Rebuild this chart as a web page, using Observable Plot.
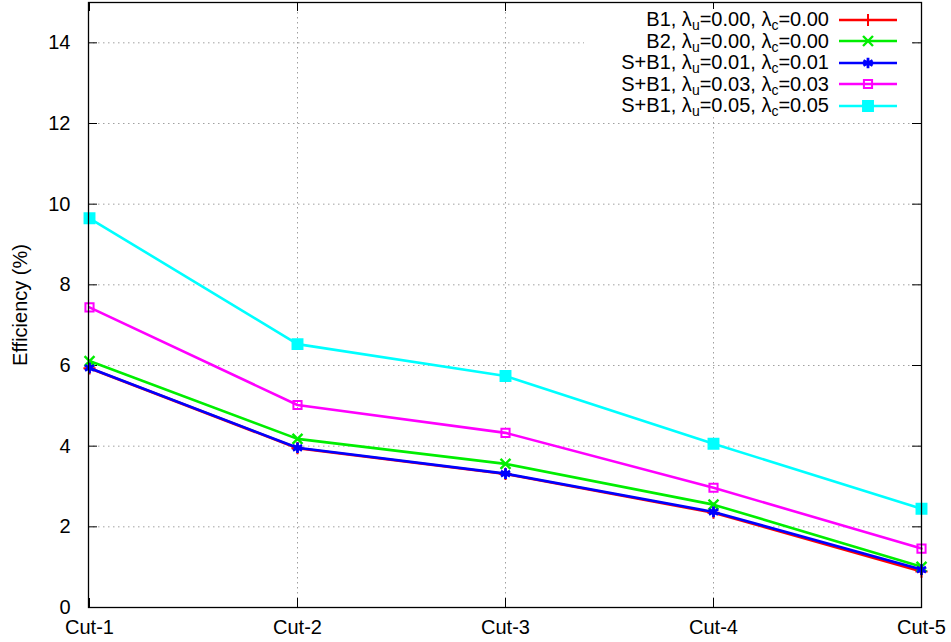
<!DOCTYPE html>
<html><head><meta charset="utf-8">
<script src="https://cdn.jsdelivr.net/npm/d3@7"></script>
<script src="https://cdn.jsdelivr.net/npm/@observablehq/plot@0.6"></script>
<style>
body{margin:0;background:#fff;font-family:"Liberation Sans",Arial,Helvetica,sans-serif}
#wrap{position:relative;width:951px;height:642px}
#wrap svg text{font-size:20px !important;font-family:"Liberation Sans",Arial,sans-serif !important}
#legend{position:absolute;left:584px;top:9px;width:326px;background:#fff;font-size:20px;color:#000}
.row{display:flex;align-items:center;justify-content:flex-end;height:21.5px;line-height:21.5px;white-space:nowrap}
.row sub{font-size:14px;vertical-align:-4px;line-height:0}
.row svg{margin-left:10px;margin-right:13px}
</style></head>
<body><div id="wrap"></div>
<script>
const cuts = ["Cut-1", "Cut-2", "Cut-3", "Cut-4", "Cut-5"];
const yLabel = "Efficiency (%)";
const seriesLabels = [
  ["B1", "0.00", "0.00"],
  ["B2", "0.00", "0.00"],
  ["S+B1", "0.01", "0.01"],
  ["S+B1", "0.03", "0.03"],
  ["S+B1", "0.05", "0.05"]
];
const b1 = [5.93, 3.95, 3.31, 2.35, 0.89];
const b2 = [6.11, 4.18, 3.56, 2.55, 1.01];
const sb1_001 = [5.94, 3.96, 3.32, 2.37, 0.94];
const sb1_003 = [7.44, 5.02, 4.33, 2.97, 1.46];
const sb1_005 = [9.65, 6.53, 5.74, 4.06, 2.45];
const yTicks = [0, 2, 4, 6, 8, 10, 12, 14];

const seriesValues = [b1, b2, sb1_001, sb1_003, sb1_005];
const colors = ["#ff0000", "#00ee00", "#0000ff", "#ff00ff", "#00ffff"];
const symbols = ["plus", "times", "asterisk", "square", "square"];
const d3symbols = [d3.symbolPlus, d3.symbolTimes, d3.symbolAsterisk, d3.symbolSquare, d3.symbolSquare];
const radii = [4, 4.6, 5, 4.6, 5.6];
const widths = [2, 2.4, 2.8, 2, 2];
const fills = ["none", "none", "none", "none", "#00ffff"];

const W = 951, H = 642, mL = 88, mR = 30, mT = 2, mB = 35;
const fw = W - mL - mR, fh = H - mT - mB;

const rows = [];
seriesValues.forEach((vals, i) => vals.forEach((v, j) => rows.push({s: i, cut: cuts[j], v})));

const gridStyle = {stroke: "#a0a0a0", strokeOpacity: 1, strokeWidth: 1, strokeDasharray: "1.5,3.5"};
const marks = [
  Plot.gridY(yTicks.slice(1), gridStyle),
  Plot.gridX(cuts.slice(1, 4), gridStyle),
  Plot.axisX(cuts, {tickSize: 0, tickPadding: 12, fontSize: 20, label: null}),
  Plot.axisY(yTicks, {tickSize: 0, tickPadding: 18, fontSize: 20, label: null}),
  Plot.text([yLabel], {text: d => d, frameAnchor: "left", textAnchor: "middle", dx: -68, rotate: -90, fontSize: 20, fill: "black"}),
  Plot.ruleY(yTicks, {y: d => d, stroke: "black", strokeWidth: 1, insetRight: fw - 9}),
  Plot.ruleY(yTicks, {y: d => d, stroke: "black", strokeWidth: 1, insetLeft: fw - 9}),
  Plot.ruleX(cuts, {x: d => d, stroke: "black", strokeWidth: 1, insetTop: fh - 9}),
  Plot.ruleX(cuts, {x: d => d, stroke: "black", strokeWidth: 1, insetBottom: fh - 9})
];
seriesValues.forEach((_, i) => {
  const data = rows.filter(r => r.s === i);
  marks.push(Plot.line(data, {x: "cut", y: "v", stroke: colors[i], strokeWidth: 2.6}));
  marks.push(Plot.dot(data, {x: "cut", y: "v", symbol: symbols[i], r: radii[i], stroke: colors[i], fill: fills[i], strokeWidth: widths[i]}));
});
marks.push(Plot.frame({stroke: "black", strokeWidth: 1.3}));

const chart = Plot.plot({
  width: W, height: H,
  marginLeft: mL, marginRight: mR, marginTop: mT, marginBottom: mB,
  style: {fontFamily: '"Liberation Sans", Arial, sans-serif', fontSize: "20px", color: "black", background: "white"},
  x: {type: "point", domain: cuts, padding: 0, axis: null},
  y: {domain: [0, 15], axis: null},
  marks
});
const wrap = document.getElementById("wrap");
wrap.appendChild(chart);

const legend = document.createElement("div");
legend.id = "legend";
seriesLabels.forEach((lab, i) => {
  const row = document.createElement("div");
  row.className = "row";
  const span = document.createElement("span");
  span.innerHTML = `${lab[0]}, λ<sub>u</sub>=${lab[1]}, λ<sub>c</sub>=${lab[2]}`;
  row.appendChild(span);
  const sw = d3.create("svg").attr("width", 58).attr("height", 20);
  sw.append("line").attr("x1", 0).attr("x2", 58).attr("y1", 10).attr("y2", 10)
    .attr("stroke", colors[i]).attr("stroke-width", 2.6);
  sw.append("path").attr("transform", "translate(29,10)")
    .attr("d", d3.symbol(d3symbols[i], Math.PI * radii[i] * radii[i])())
    .attr("stroke", colors[i]).attr("stroke-width", widths[i]).attr("fill", fills[i]);
  row.appendChild(sw.node());
  legend.appendChild(row);
});
wrap.appendChild(legend);
</script>
</body></html>
